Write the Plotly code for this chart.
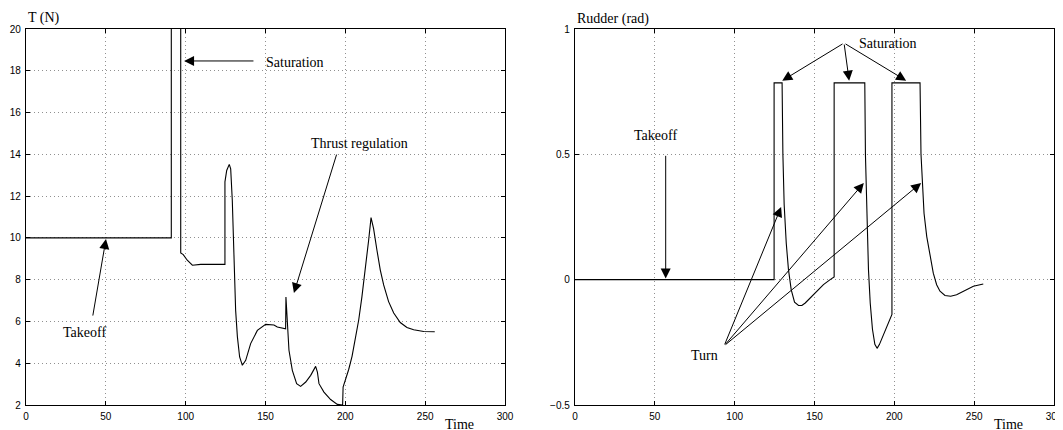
import plotly.graph_objects as go

# ---- Thrust data (left panel) ----
thrust_time = [0, 91, 91, 96.9, 96.9, 98.5, 101, 104.2, 109.4, 124.6, 124.6, 125.7, 127.3,
               128.2, 129.2, 130.3, 131.3, 132.4, 133.8, 135.5, 137.6, 140.7, 144.9, 150.1,
               155.3, 157.4, 162.6, 162.8, 163.7, 164.7, 166.8, 169.5, 172.0, 175.2, 178.3,
               181.4, 182.5, 183.5, 186.6, 190.8, 195.0, 198.3, 198.6, 199.0, 200.0, 202.1,
               204.2, 206.3, 208.4, 210.4, 212.5, 214.6, 216.1, 217.7, 219.8, 221.9, 224.0,
               227.1, 230.3, 234.4, 238.6, 242.8, 249.1, 256.0]
thrust_val = [10, 10, 22, 22, 9.28, 9.2, 8.93, 8.69, 8.73, 8.73, 12.68, 13.23, 13.52,
              13.3, 11.8, 8.93, 6.53, 5.26, 4.3, 3.9, 4.14, 4.94, 5.57, 5.86,
              5.83, 5.73, 5.65, 7.17, 5.89, 4.62, 3.66, 3.02, 2.89, 3.1, 3.42,
              3.85, 3.58, 3.02, 2.62, 2.26, 2.03, 2.0, 2.86, 2.95, 3.14, 3.7,
              4.33, 5.13, 6.08, 7.19, 8.46, 9.89, 10.97, 10.44, 9.41, 8.46, 7.75,
              6.95, 6.4, 5.95, 5.71, 5.6, 5.52, 5.51]

# ---- Rudder data (right panel) ----
rudder_time = [0, 124.7, 124.7, 129.7, 130.2, 131.0, 132.3, 133.7, 135.4, 137.5, 140.0, 142.1,
               144.2, 147.3, 151.5, 155.6, 159.8, 162.3, 162.3, 181.5, 181.9, 182.8, 183.8,
               184.9, 186.3, 187.8, 189.2, 190.7, 192.8, 195.3, 197.8, 198.5, 198.5, 216.1,
               216.7, 217.5, 218.6, 220.3, 222.3, 224.4, 226.5, 228.6, 231.7, 235.3, 239.0,
               244.3, 249.5, 255.7]
rudder_val = [0, 0, 0.785, 0.785, 0.5, 0.30, 0.146, 0.04, -0.04, -0.09, -0.103, -0.103,
              -0.093, -0.073, -0.046, -0.020, 0.0, 0.011, 0.785, 0.785, 0.5, 0.238, 0.04,
              -0.093, -0.198, -0.258, -0.274, -0.258, -0.225, -0.185, -0.145, -0.139, 0.785, 0.785,
              0.5, 0.37, 0.265, 0.172, 0.093, 0.026, -0.02, -0.046, -0.063, -0.066, -0.06,
              -0.042, -0.026, -0.017]

x_ticks = [0, 50, 100, 150, 200, 250, 300]
thrust_ticks = [2, 4, 6, 8, 10, 12, 14, 16, 18, 20]
rudder_ticks = [-0.5, 0, 0.5, 1]
rudder_tick_text = ["\u22120.5", "0", "0.5", "1"]

# arrows: (axis suffix, tip_x, tip_y, tail_x, tail_y)
arrows = [
    ("", 99.0, 18.47, 143.4, 18.47),
    ("", 167.8, 7.36, 194.8, 14.06),
    ("", 50.1, 9.95, 41.7, 6.21),
    ("2", 129.8, 0.794, 168.5, 0.944),
    ("2", 171.7, 0.794, 168.5, 0.944),
    ("2", 207.4, 0.794, 168.5, 0.944),
    ("2", 56.8, 0.005, 56.8, 0.5),
    ("2", 129.1, 0.29, 93.4, -0.264),
    ("2", 180.9, 0.386, 93.4, -0.264),
    ("2", 216.8, 0.386, 93.4, -0.264),
]
# text labels: (axis suffix, x, y, text)
labels = [
    ("", 168.5, 18.42, "Saturation"),
    ("", 208.6, 14.5, "Thrust regulation"),
    ("", 36.9, 5.49, "Takeoff"),
    ("2", 196.3, 0.944, "Saturation"),
    ("2", 50.2, 0.576, "Takeoff"),
    ("2", 80.9, -0.304, "Turn"),
]

W, H = 1063, 430
OFF = 8  # page body margin compensation


def px(v):
    return (v - OFF) / W


def py(v):
    return (H - (v - OFF)) / H


serif = "Liberation Serif"
sans = "Liberation Sans"

fig = go.Figure()
fig.add_trace(go.Scatter(x=thrust_time, y=thrust_val, mode="lines",
                         line=dict(color="black", width=1.1), xaxis="x", yaxis="y",
                         showlegend=False, hoverinfo="skip"))
fig.add_trace(go.Scatter(x=rudder_time, y=rudder_val, mode="lines",
                         line=dict(color="black", width=1.1), xaxis="x2", yaxis="y2",
                         showlegend=False, hoverinfo="skip"))

ydom = [py(405), py(29)]
axis_common = dict(showgrid=True, gridcolor="#909090", griddash="1px,3px", gridwidth=1,
                   showline=True, linecolor="black", linewidth=1.4, mirror="ticks",
                   ticks="inside", ticklen=4, tickcolor="black", zeroline=False,
                   tickfont=dict(family=sans, size=10, color="black"), automargin=False)

fig.update_layout(
    width=W, height=H,
    margin=dict(l=0, r=0, t=0, b=0),
    paper_bgcolor="white", plot_bgcolor="white",
    xaxis=dict(domain=[px(26), px(505)], range=[0, 300], tickvals=x_ticks, anchor="y",
               ticklabelstandoff=2, **axis_common),
    yaxis=dict(domain=ydom, range=[2, 20], tickvals=thrust_ticks, anchor="x",
               ticklabelstandoff=2, **axis_common),
    xaxis2=dict(domain=[px(575), px(1054)], range=[0, 300], tickvals=x_ticks, anchor="y2",
                ticklabelstandoff=2, **axis_common),
    yaxis2=dict(domain=ydom, range=[-0.5, 1], tickvals=rudder_ticks, ticktext=rudder_tick_text,
                anchor="x2", ticklabelstandoff=2, **axis_common),
)

annotations = []
for ax_id, tx, ty, sx, sy in arrows:
    annotations.append(dict(
        x=tx, y=ty, ax=sx, ay=sy, xref="x" + ax_id, yref="y" + ax_id,
        axref="x" + ax_id, ayref="y" + ax_id, text="", showarrow=True,
        arrowhead=2, arrowsize=2.0, arrowwidth=1, arrowcolor="black", standoff=0,
        startstandoff=0))
for ax_id, x, y, txt in labels:
    annotations.append(dict(
        x=x, y=y, xref="x" + ax_id, yref="y" + ax_id, text=txt, showarrow=False,
        font=dict(family=serif, size=14, color="black"), xanchor="center", yanchor="middle"))

title_font = dict(family=serif, size=14, color="black")
annotations += [
    dict(x=px(26), y=py(18), xref="paper", yref="paper", text="T (N)", showarrow=False,
         xanchor="left", yanchor="middle", font=title_font),
    dict(x=px(575), y=py(19), xref="paper", yref="paper", text="Rudder (rad)",
         showarrow=False, xanchor="left", yanchor="middle", font=title_font),
    dict(x=px(459), y=py(424), xref="paper", yref="paper", text="Time", showarrow=False,
         xanchor="center", yanchor="middle", font=title_font),
    dict(x=px(1008), y=py(424), xref="paper", yref="paper", text="Time", showarrow=False,
         xanchor="center", yanchor="middle", font=title_font),
]
fig.update_layout(annotations=annotations)

fig.write_html("out.html")
